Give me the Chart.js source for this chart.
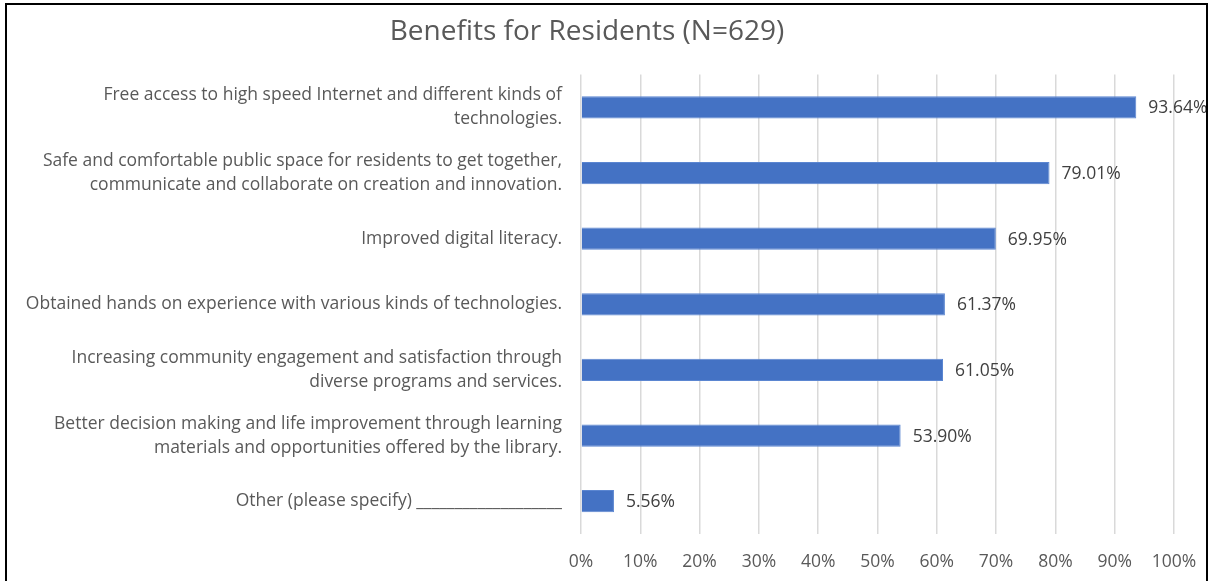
<!DOCTYPE html>
<html>
<head>
<meta charset="utf-8">
<script src="https://cdn.jsdelivr.net/npm/chart.js@4"></script>
<style>
  body { margin: 0; background: #fff; }
  #wrap { position: relative; width: 1210px; height: 581px; overflow: hidden; }
  #frame { position: absolute; left: 5px; top: 3px; width: 1199px; height: 640px; border: 2px solid #000; pointer-events: none; }
</style>
</head>
<body>
<div id="wrap">
  <canvas id="benefitsChart" width="1210" height="581"></canvas>
  <div id="frame"></div>
</div>
<script>
// data
const chartTitle = "Benefits for Residents (N=629)";
const categories = [
    ["Free access to high speed Internet and different kinds of", "technologies."],
    ["Safe and comfortable public space for residents to get together,", "communicate and collaborate on creation and innovation."],
    "Improved digital literacy.",
    "Obtained hands on experience with various kinds of technologies.",
    ["Increasing community engagement and satisfaction through", "diverse programs and services."],
    ["Better decision making and life improvement through learning", "materials and opportunities offered by the library."],
    "Other (please specify) ___________________",
];
const percentages = [93.64, 79.01, 69.95, 61.37, 61.05, 53.90, 5.56];
const tickValues = [0, 10, 20, 30, 40, 50, 60, 70, 80, 90, 100];

const fontFamily = "'Open Sans', 'Liberation Sans', sans-serif";

// value labels at the end of each bar
const barLabels = {
    id: "barLabels",
    afterDatasetsDraw(chart) {
        const c = chart.ctx;
        const meta = chart.getDatasetMeta(0);
        c.save();
        c.font = "17.5px " + fontFamily;
        c.fillStyle = "#404040";
        c.textBaseline = "middle";
        c.textAlign = "left";
        meta.data.forEach((bar, i) => {
            c.fillText(percentages[i].toFixed(2) + "%", bar.x + 12, bar.y + 1);
        });
        c.restore();
    },
};

const ctx = document.getElementById("benefitsChart");
new Chart(ctx, {
    type: "bar",
    data: {
        labels: categories,
        datasets: [{
            data: percentages,
            backgroundColor: "#4472C4",
            borderColor: "#5b86d1",
            borderWidth: 1,
            categoryPercentage: 1,
            barPercentage: 0.34,
        }],
    },
    options: {
        indexAxis: "y",
        responsive: false,
        animation: false,
        layout: { padding: { left: 0, right: 36, top: 0, bottom: 0 } },
        plugins: {
            legend: { display: false },
            tooltip: { enabled: false },
            title: {
                display: true,
                text: chartTitle,
                color: "#595959",
                font: { family: fontFamily, size: 28, weight: "normal" },
                padding: { top: 15, bottom: 26 },
            },
        },
        scales: {
            x: {
                min: 0,
                max: 100,
                afterBuildTicks: (scale) => { scale.ticks = tickValues.map(v => ({ value: v })); },
                ticks: {
                    callback: (v) => v + "%",
                    color: "#595959",
                    font: { family: fontFamily, size: 17.5 },
                    padding: 18,
                    maxRotation: 0,
                },
                grid: { color: "#d9d9d9", lineWidth: 1.5, drawTicks: false },
                border: { display: false },
                afterFit: (scale) => {
                    scale.height = 47;
                    scale.paddingLeft = 0;
                    scale.paddingRight = 0;
                },
            },
            y: {
                ticks: {
                    color: "#595959",
                    font: { family: fontFamily, size: 17.5, lineHeight: 1.37 },
                    padding: 19,
                },
                grid: { display: false, drawTicks: false },
                border: { display: false },
                afterFit: (scale) => { scale.width = 581; },
            },
        },
    },
    plugins: [barLabels],
});
</script>
</body>
</html>
